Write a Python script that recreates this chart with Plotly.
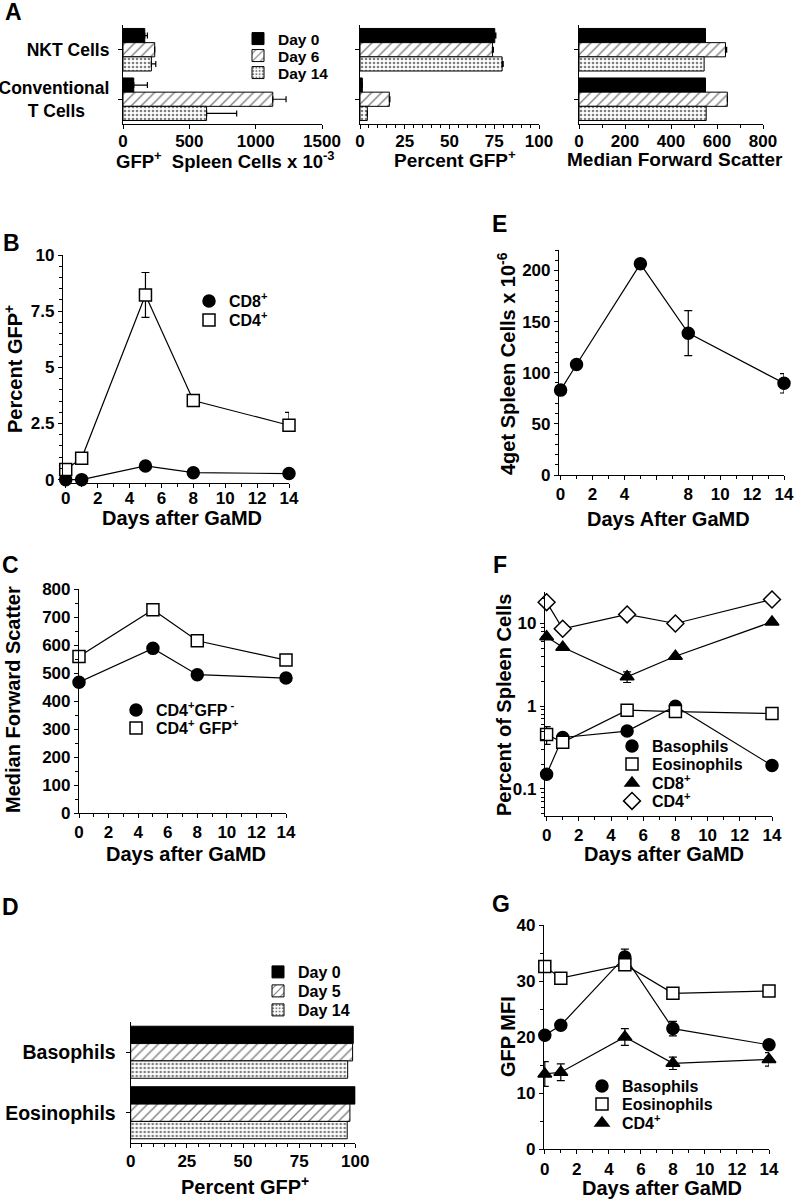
import plotly.graph_objects as go

W, H = 794, 1199

# ---------------- Data ----------------
# Panel A
a_cells = ["NKT Cells", "Conventional T Cells"]
a_cell_labels = ["NKT Cells", "Conventional<br>T Cells&nbsp;&nbsp;&nbsp;&nbsp;&nbsp;"]
a_days = ["Day 0", "Day 6", "Day 14"]
a_count = [[164, 81], [239, 1129], [214, 630]]
a_count_err = [[20, 103], [0, 100], [33, 227]]
a_pct = [[75.3, 1.3], [74.0, 16.4], [79.4, 4.1]]
a_pct_err = [[0.6, 0], [0.5, 0.3], [0.6, 0]]
a_fsc = [[550, 550], [637, 645], [544, 553]]
a_fsc_err = [[0, 0], [5, 0], [0, 0]]

# Panel B
b_days = [0, 1, 5, 8, 14]
b_cd8 = [0, 0, 0.61, 0.31, 0.27]
b_cd4 = [0.45, 0.95, 8.22, 3.52, 2.42]
b_cd4_err_up = [0, 0, 1.0, 0, 0.57]
b_cd4_err_down = [0, 0, 1.0, 0, 0]

# Panel E
e_days = [0, 1, 5, 8, 14]
e_cells = [83, 108, 206.5, 138.7, 89.7]
e_err = [0, 0, 2, 22, 9.5]
e_tick_vals = [0, 2, 4, 6, 8, 10, 12, 14]
e_tick_text = ["0", "2", "4", "", "8", "10", "12", "14"]

# Panel C
c_days = [0, 5, 8, 14]
c_gfp_neg = [467, 588, 494, 482]
c_gfp_pos = [559, 726, 615, 546]

# Panel F
f_days = [0, 1, 5, 8, 14]
f_baso = [0.151, 0.419, 0.50, 1.0, 0.192]
f_eos = [0.455, 0.367, 0.895, 0.86, 0.815]
f_eos_err = [0.11, 0, 0, 0, 0]
f_cd8 = [6.9, 5.15, 2.26, 4.0, 10.4]
f_cd8_err = [0, 0, 0.33, 0, 0]
f_cd4 = [18.0, 8.6, 12.8, 9.95, 19.4]

# Panel D
d_cells = ["Basophils", "Eosinophils"]
d_days = ["Day 0", "Day 5", "Day 14"]
d_pct = [[99.1, 100], [98.8, 97.6], [96.6, 96.4]]

# Panel G
g_days = [0, 1, 5, 8, 14]
g_baso = [20.3, 22.1, 34.3, 21.5, 18.6]
g_baso_err = [0, 0, 1.4, 1.3, 0]
g_eos = [32.6, 30.5, 32.9, 27.8, 28.2]
g_cd4 = [13.4, 13.7, 20.0, 15.3, 16.0]
g_cd4_err = [2.2, 1.5, 1.5, 1.1, 1.2]

# ---------------- Helpers ----------------
def xdom(a, b):
    return [a / W, b / W]

def ydom(top, bottom):
    return [1 - bottom / H, 1 - top / H]

FONT = "Liberation Sans, Arial, Helvetica, sans-serif"
TICK = 17
BAR_COLORS = ["black", "white", "white"]
BAR_PATTERNS = [
    dict(shape=""),
    dict(shape="/", size=7, solidity=0.2, fgcolor="black", bgcolor="white"),
    dict(shape=".", size=4, solidity=0.35, fgcolor="black", bgcolor="white"),
]

def axis(**kw):
    d = dict(showline=True, linecolor="black", linewidth=1.2, ticks="outside",
             ticklen=4, tickwidth=1.2, tickcolor="black", showgrid=False,
             zeroline=False, automargin=False,
             tickfont=dict(size=TICK, family=FONT, weight="bold", color="black"))
    d.update(kw)
    return d

def minor(dt):
    return dict(ticks="outside", ticklen=2.5, tickwidth=1, tickcolor="black", dtick=dt, showgrid=False)

fig = go.Figure()
legend_specs = []

def new_legend(xpx, ypx, size):
    idx = len(legend_specs) + 1
    key = "legend" if idx == 1 else "legend%d" % idx
    legend_specs.append((key, xpx, ypx, size))
    return key

def bars(values, errs, cats, days, xa, ya, rows=None, lx=0, lsize=15):
    for i, day in enumerate(days):
        err = None
        if errs is not None and any(errs[i]):
            err = dict(type="data", array=errs[i], arrayminus=[0] * len(errs[i]),
                       symmetric=False, color="black", thickness=1.2, width=3)
        kw = dict(showlegend=False)
        if rows is not None:
            kw = dict(showlegend=True, legend=new_legend(lx, rows[i], lsize))
        fig.add_trace(go.Bar(
            x=values[i], y=cats, orientation="h", name=day,
            marker=dict(color=BAR_COLORS[i], pattern=BAR_PATTERNS[i],
                        line=dict(color="black", width=1)),
            error_x=err, xaxis=xa, yaxis=ya, **kw))

def line(x, y, xa, ya):
    fig.add_trace(go.Scatter(x=x, y=y, mode="lines", line=dict(color="black", width=1.2),
                             xaxis=xa, yaxis=ya, showlegend=False, hoverinfo="skip",
                             cliponaxis=False))

def marks(x, y, name, symbol, fill, size, xa, ya, leg=None, err=None, errminus=None):
    ey = None
    if err is not None:
        ey = dict(type="data", array=err, color="black", thickness=1.2, width=4)
        if errminus is not None:
            ey["symmetric"] = False
            ey["arrayminus"] = errminus
    kw = dict(showlegend=False)
    if leg is not None:
        kw = dict(showlegend=True, legend=new_legend(*leg))
    fig.add_trace(go.Scatter(x=x, y=y, mode="markers", name=name,
                             marker=dict(symbol=symbol, size=size, color=fill,
                                         line=dict(color="black", width=1.5)),
                             error_y=ey, xaxis=xa, yaxis=ya, cliponaxis=False, **kw))

# Panel A
bars(a_count, a_count_err, a_cells, a_days, "x", "y", rows=[39, 56, 73], lx=238, lsize=15.5)
bars(a_pct, a_pct_err, a_cells, a_days, "x2", "y2")
bars(a_fsc, a_fsc_err, a_cells, a_days, "x3", "y3")

# Panel B
line(b_days, b_cd4, "x4", "y4")
line(b_days, b_cd8, "x4", "y4")
marks(b_days, b_cd8, "CD8<sup>+</sup>", "circle", "black", 12, "x4", "y4", (189, 301, 16))
marks(b_days, b_cd4, "CD4<sup>+</sup>", "square", "white", 12, "x4", "y4", (189, 320, 16),
      b_cd4_err_up, b_cd4_err_down)

# Panel E
line(e_days, e_cells, "x5", "y5")
marks(e_days, e_cells, "4get", "circle", "black", 12, "x5", "y5", None, e_err)

# Panel C
line(c_days, c_gfp_pos, "x6", "y6")
line(c_days, c_gfp_neg, "x6", "y6")
marks(c_days, c_gfp_neg, "CD4<sup>+</sup>GFP<sup> -</sup>", "circle", "black", 12, "x6", "y6", (116, 710, 16))
marks(c_days, c_gfp_pos, "CD4<sup>+</sup> GFP<sup>+</sup>", "square", "white", 12, "x6", "y6", (116, 728, 16))

# Panel F
line(f_days, f_cd4, "x7", "y7")
line(f_days, f_cd8, "x7", "y7")
line(f_days, f_baso, "x7", "y7")
line(f_days, f_eos, "x7", "y7")
marks(f_days, f_baso, "Basophils", "circle", "black", 12, "x7", "y7", (612, 746, 16))
marks(f_days, f_eos, "Eosinophils", "square", "white", 12, "x7", "y7", (612, 764, 16), f_eos_err)
marks(f_days, f_cd8, "CD8<sup>+</sup>", "triangle-up", "black", 12, "x7", "y7", (612, 783, 16), f_cd8_err)
marks(f_days, f_cd4, "CD4<sup>+</sup>", "diamond", "white", 13, "x7", "y7", (612, 801, 16))

# Panel D
bars(d_pct, None, d_cells, d_days, "x8", "y8", rows=[972, 991, 1010], lx=258, lsize=16)

# Panel G
line(g_days, g_eos, "x9", "y9")
line(g_days, g_baso, "x9", "y9")
line(g_days, g_cd4, "x9", "y9")
marks(g_days, g_baso, "Basophils", "circle", "black", 12, "x9", "y9", (582, 1086, 16), g_baso_err)
marks(g_days, g_eos, "Eosinophils", "square", "white", 12, "x9", "y9", (582, 1104, 16))
marks(g_days, g_cd4, "CD4<sup>+</sup>", "triangle-up", "black", 12, "x9", "y9", (582, 1123, 16), g_cd4_err)

# ---------------- Layout ----------------
ADOM = ydom(25, 124)
fig.update_layout(
    width=W, height=H, margin=dict(l=0, r=0, t=0, b=0, autoexpand=False),
    paper_bgcolor="white", plot_bgcolor="white",
    font=dict(family=FONT, color="black", weight="bold"),
    barmode="group", bargap=0.14, bargroupgap=0,
    # Panel A
    xaxis=axis(domain=xdom(123, 322), anchor="y", range=[0, 1500], dtick=500, ticklabelstandoff=-3),
    yaxis=axis(domain=ADOM, anchor="x", type="category", range=[1.5, -0.5],
               tickvals=a_cells, ticktext=a_cell_labels, ticklabelstandoff=5,
               tickfont=dict(size=17.5, family=FONT, weight="bold", color="black")),
    xaxis2=axis(domain=xdom(360, 539), anchor="y2", range=[0, 100], dtick=25, minor=minor(5),
                ticklabelstandoff=-3),
    yaxis2=axis(domain=ADOM, anchor="x2", type="category", range=[1.5, -0.5], showticklabels=False),
    xaxis3=axis(domain=xdom(579, 763), anchor="y3", range=[0, 800], dtick=200, minor=minor(100),
                ticklabelstandoff=-3),
    yaxis3=axis(domain=ADOM, anchor="x3", type="category", range=[1.5, -0.5], showticklabels=False),
    # Panel B
    xaxis4=axis(domain=xdom(63, 289), anchor="y4", range=[-0.17, 14], tickvals=[0, 2, 4, 6, 8, 10, 12, 14],
                minor=minor(1), ticklabelstandoff=-5),
    yaxis4=axis(domain=ydom(255, 483), anchor="x4", range=[-0.15, 10], tickvals=[0, 2.5, 5, 7.5, 10],
                ticktext=["0", "2.5", "5", "7.5", "10"], minor=minor(0.5)),
    # Panel E
    xaxis5=axis(domain=xdom(559, 784), anchor="y5", range=[-0.1, 14], tickvals=e_tick_vals,
                ticktext=e_tick_text, minor=minor(1), ticklabelstandoff=-1),
    yaxis5=axis(domain=ydom(250, 475), anchor="x5", range=[0, 220], dtick=50, minor=minor(10)),
    # Panel C
    xaxis6=axis(domain=xdom(79, 286), anchor="y6", range=[0, 14], dtick=2, minor=minor(1),
                ticklabelstandoff=-1),
    yaxis6=axis(domain=ydom(589, 813), anchor="x6", range=[0, 800], dtick=100, minor=minor(50)),
    # Panel F
    xaxis7=axis(domain=xdom(545, 772), anchor="y7", range=[-0.1, 14], dtick=2, minor=minor(1),
                ticklabelstandoff=-1),
    yaxis7=axis(domain=ydom(592, 816), anchor="x7", type="log", range=[-1.326, 1.378],
                tickvals=[0.1, 1, 10], ticktext=["0.1", "1", "10"],
                minor=dict(ticks="outside", ticklen=2.5, tickwidth=1, tickcolor="black",
                           tickvals=[0.05, 0.06, 0.07, 0.08, 0.09, 0.2, 0.3, 0.4, 0.5, 0.6, 0.7, 0.8, 0.9,
                                     2, 3, 4, 5, 6, 7, 8, 9, 20])),
    # Panel D
    xaxis8=axis(domain=xdom(130.7, 355.3), anchor="y8", range=[0, 100], dtick=25, minor=minor(5),
                ticklabelstandoff=-2),
    yaxis8=axis(domain=ydom(1022, 1143), anchor="x8", type="category", range=[1.5, -0.5],
                ticklabelstandoff=6,
                tickfont=dict(size=19.5, family=FONT, weight="bold", color="black")),
    # Panel G
    xaxis9=axis(domain=xdom(544, 769), anchor="y9", range=[-0.05, 14], dtick=2, minor=minor(1)),
    yaxis9=axis(domain=ydom(925, 1149), anchor="x9", range=[0, 40], dtick=10, minor=minor(5)),
)

for key, xpx, ypx, size in legend_specs:
    fig.update_layout({key: dict(x=xpx / W, y=1 - ypx / H, xanchor="left", yanchor="middle",
                                 bgcolor="rgba(0,0,0,0)", borderwidth=0, itemclick=False,
                                 font=dict(size=size, family=FONT, weight="bold", color="black"))})

# Titles and panel letters
def text(s, xpx, ypx, size=20, angle=0):
    fig.add_annotation(text=s, x=xpx / W, y=1 - ypx / H, xref="paper", yref="paper",
                       showarrow=False, textangle=angle, xanchor="center", yanchor="middle",
                       font=dict(size=size, family=FONT, weight="bold", color="black"))

text("GFP<sup>+</sup>  Spleen Cells x 10<sup>-3</sup>", 226, 160, 18.5)
text("Percent GFP<sup>+</sup>", 455, 159, 19)
text("Median Forward Scatter", 675, 159, 19)
text("Days after GaMD", 182, 518)
text("Percent GFP<sup>+</sup>", 13, 369, angle=-90)
text("Days After GaMD", 668, 519)
text("4get Spleen Cells x 10<sup>-6</sup>", 507, 364, angle=-90)
text("Days after GaMD", 186, 854)
text("Median Forward Scatter", 13, 700, angle=-90)
text("Days after GaMD", 664, 854)
text("Percent of Spleen Cells", 504, 705, angle=-90)
text("Percent GFP<sup>+</sup>", 245, 1185)
text("Days after GaMD", 662, 1188)
text("GFP MFI", 508, 1037, angle=-90)

for letter, xp, yp in [("A", 13, 12), ("B", 11, 243), ("C", 10, 565), ("D", 10, 907),
                       ("E", 500, 224), ("F", 500, 565), ("G", 501, 904)]:
    text(letter, xp, yp, size=23)

fig.write_html("out.html", config={"displayModeBar": False},
               post_script="document.body.style.margin='0px';")
